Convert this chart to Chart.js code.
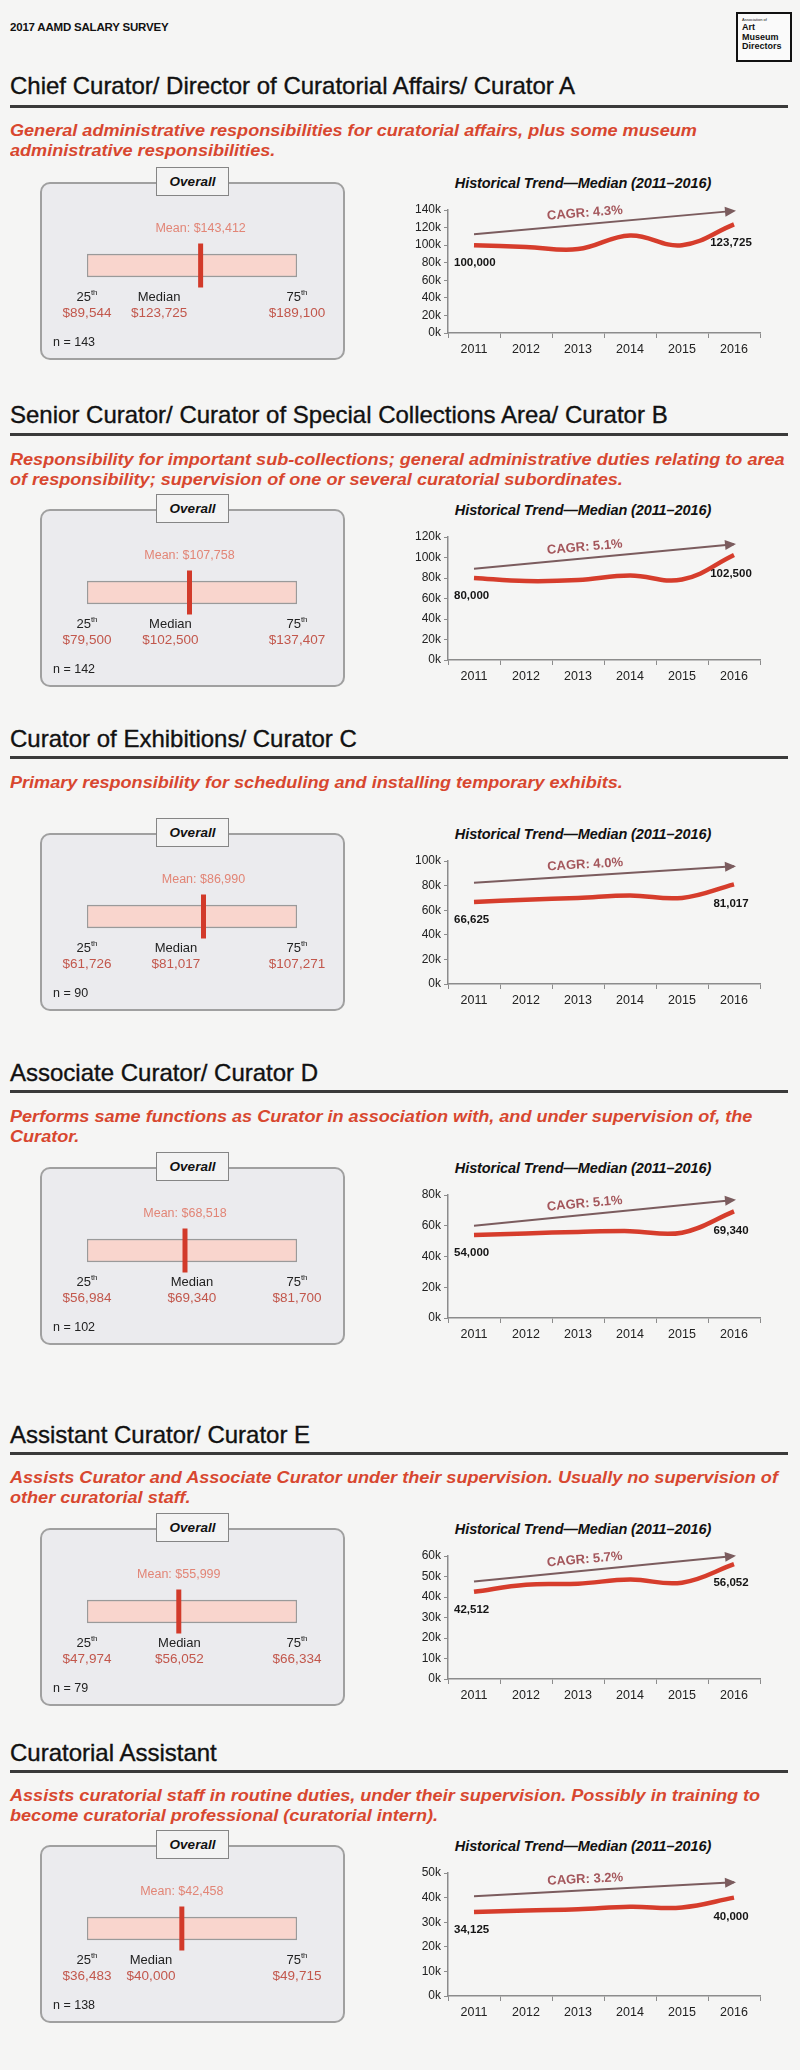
<!DOCTYPE html>
<html>
<head>
<meta charset="utf-8">
<script src="https://cdn.jsdelivr.net/npm/chart.js@4.4.1/dist/chart.umd.min.js"></script>
<style>
  html, body { margin: 0; padding: 0; }
  body {
    width: 800px; height: 2070px; position: relative; overflow: hidden;
    background: #f5f5f4; color: #111;
    font-family: "Liberation Sans", Arial, sans-serif;
  }
  .abs { position: absolute; }
  .head { left: 10px; top: 21px; font-size: 11.5px; font-weight: bold; letter-spacing: -0.2px; }
  .logo {
    left: 736px; top: 12px; width: 48px; height: 46px;
    border: 2.5px solid #111; background: #fafafa; padding: 0 0 0 4px;
    font-weight: bold; font-size: 9px; line-height: 9.5px; color: #111;
  }
  .logo small { display: block; font-size: 4px; line-height: 6px; font-weight: normal; margin-top: 3px; }
  .title {
    left: 10px; font-size: 24px; line-height: 26px; white-space: nowrap; color: #111;
    -webkit-text-stroke: 0.35px #111;
  }
  .rule { left: 10px; width: 778px; height: 3px; background: #3a3a3a; }
  .desc {
    left: 10px; width: 700px; font-size: 16px; line-height: 20px;
    font-weight: bold; font-style: italic; color: #d8472f; white-space: pre;
    transform: scaleX(1.13); transform-origin: left top;
  }
  .box {
    left: 40px; width: 301px; height: 174px; background: #ebebee;
    border: 2px solid #a0a0a0; border-radius: 10px;
  }
  .tab {
    left: 156px; width: 71px; height: 27px; background: #f3f3f3;
    border: 1.5px solid #858585; text-align: center; line-height: 27px;
    font-weight: bold; font-style: italic; font-size: 13.5px;
  }
  .ctitle {
    left: 428px; width: 310px; text-align: center; line-height: 16px;
    font-weight: bold; font-style: italic; font-size: 14.5px; letter-spacing: -0.1px;
  }
  canvas { position: absolute; }
</style>
</head>
<body>
<div class="abs head">2017 AAMD SALARY SURVEY</div>
<div class="abs logo"><small>Association of</small>Art<br>Museum<br>Directors</div>
<script>
const years = ['2011', '2012', '2013', '2014', '2015', '2016'];

const titles = [
  'Chief Curator/ Director of Curatorial Affairs/ Curator A',
  'Senior Curator/ Curator of Special Collections Area/ Curator B',
  'Curator of Exhibitions/ Curator C',
  'Associate Curator/ Curator D',
  'Assistant Curator/ Curator E',
  'Curatorial Assistant'
];
const descriptions = [
  'General administrative responsibilities for curatorial affairs, plus some museum\nadministrative responsibilities.',
  'Responsibility for important sub-collections; general administrative duties relating to area\nof responsibility; supervision of one or several curatorial subordinates.',
  'Primary responsibility for scheduling and installing temporary exhibits.',
  'Performs same functions as Curator in association with, and under supervision of, the\nCurator.',
  'Assists Curator and Associate Curator under their supervision. Usually no supervision of\nother curatorial staff.',
  'Assists curatorial staff in routine duties, under their supervision. Possibly in training to\nbecome curatorial professional (curatorial intern).'
];

// historical medians, 2011-2016
const chiefMedian = [100000, 98000, 95500, 111000, 100000, 123725];
const seniorMedian = [80000, 77000, 78000, 82500, 78500, 102500];
const exhibitionsMedian = [66625, 68500, 70000, 72000, 70000, 81017];
const associateMedian = [54000, 55000, 56000, 56500, 55500, 69340];
const assistantMedian = [42512, 46000, 46500, 48500, 47000, 56052];
const curatorialAssistantMedian = [34125, 34800, 35300, 36300, 36000, 40000];
const trendSeries = [chiefMedian, seniorMedian, exhibitionsMedian, associateMedian, assistantMedian, curatorialAssistantMedian];

// CAGR arrow ends (2011, 2016) and labels
const cagrStart = [112500, 89000, 82300, 60000, 47600, 40500];
const cagrEnd = [139000, 113000, 95700, 76800, 60000, 46200];
const cagrText = ['4.3%', '5.1%', '4.0%', '5.1%', '5.7%', '3.2%'];

// y axis ticks
const yMax = [140000, 120000, 100000, 80000, 60000, 50000];
const yStep = [20000, 20000, 20000, 20000, 10000, 10000];

// overall distribution
const p25 = [89544, 79500, 61726, 56984, 47974, 36483];
const medians = [123725, 102500, 81017, 69340, 56052, 40000];
const p75 = [189100, 137407, 107271, 81700, 66334, 49715];
const means = [143412, 107758, 86990, 68518, 55999, 42458];
const counts = [143, 142, 90, 102, 79, 138];

// page layout: title centre, rule, first description line centre, panel top
const layout = [
  { title: 86, rule: 106, desc: 131, panel: 182 },
  { title: 415, rule: 434, desc: 460, panel: 509 },
  { title: 739, rule: 757, desc: 783, panel: 833 },
  { title: 1073, rule: 1091, desc: 1117, panel: 1167 },
  { title: 1435, rule: 1453, desc: 1478, panel: 1528 },
  { title: 1753, rule: 1771, desc: 1796, panel: 1845 }
];

Chart.defaults.font.family = '"Liberation Sans", Arial, sans-serif';

const money = v => '$' + v.toLocaleString('en-US');
const FONT = '"Liberation Sans", Arial, sans-serif';

function add(cls, top, html) {
  const d = document.createElement('div');
  d.className = 'abs ' + cls;
  d.style.top = top + 'px';
  d.innerHTML = html;
  document.body.appendChild(d);
  return d;
}

function addCanvas(left, top, w, h) {
  const c = document.createElement('canvas');
  c.width = w; c.height = h;
  c.style.left = left + 'px'; c.style.top = top + 'px';
  c.style.width = w + 'px'; c.style.height = h + 'px';
  document.body.appendChild(c);
  return c;
}

function ordinal(ctx, num, cx, y) {
  ctx.font = '13px ' + FONT;
  const w1 = ctx.measureText(num).width;
  ctx.font = '8px ' + FONT;
  const w2 = ctx.measureText('th').width;
  const x0 = cx - (w1 + w2) / 2;
  ctx.textAlign = 'left';
  ctx.fillStyle = '#222';
  ctx.font = '13px ' + FONT;
  ctx.fillText(num, x0, y);
  ctx.font = '8px ' + FONT;
  ctx.fillText('th', x0 + w1, y - 4);
}

const rangeLabels = {
  id: 'rangeLabels',
  afterDatasetsDraw(chart, args, opts) {
    const i = opts.index;
    const { ctx, scales: { x } } = chart;
    ctx.save();
    ctx.textBaseline = 'middle';
    ctx.textAlign = 'center';
    ctx.fillStyle = '#e28576';
    ctx.font = '12.5px ' + FONT;
    ctx.fillText('Mean: ' + money(means[i]), x.getPixelForValue(means[i]), 47);

    const xl = x.getPixelForValue(p25[i]);
    const xr = x.getPixelForValue(p75[i]);
    const xm = Math.max(x.getPixelForValue(medians[i]), xl + 64);
    ordinal(ctx, '25', xl, 115);
    ordinal(ctx, '75', xr, 115);
    ctx.textAlign = 'center';
    ctx.fillStyle = '#222';
    ctx.font = '13px ' + FONT;
    ctx.fillText('Median', xm, 115);

    ctx.fillStyle = '#c2574c';
    ctx.font = '13.5px ' + FONT;
    ctx.fillText(money(p25[i]), xl, 131);
    ctx.fillText(money(medians[i]), xm, 131);
    ctx.fillText(money(p75[i]), xr, 131);

    ctx.textAlign = 'left';
    ctx.fillStyle = '#222';
    ctx.font = '12.5px ' + FONT;
    ctx.fillText('n = ' + counts[i], 13, 161);
    ctx.restore();
  }
};

const trendMarks = {
  id: 'trendMarks',
  afterDatasetsDraw(chart, args, opts) {
    const i = opts.index;
    const ctx = chart.ctx;
    const arrow = chart.getDatasetMeta(1).data;
    const a0 = arrow[0], a1 = arrow[arrow.length - 1];
    const ang = Math.atan2(a1.y - a0.y, a1.x - a0.x);
    ctx.save();
    // arrow head
    ctx.fillStyle = '#7b5c5e';
    ctx.translate(a1.x, a1.y);
    ctx.rotate(ang);
    ctx.beginPath();
    ctx.moveTo(2, 0);
    ctx.lineTo(-9, -5);
    ctx.lineTo(-9, 5);
    ctx.closePath();
    ctx.fill();
    ctx.restore();

    // CAGR label along the arrow
    ctx.save();
    const t = 0.43;
    const cx = a0.x + (a1.x - a0.x) * t + Math.sin(ang) * 11;
    const cy = a0.y + (a1.y - a0.y) * t - Math.cos(ang) * 11;
    ctx.translate(cx, cy);
    ctx.rotate(ang * 0.9);
    ctx.textAlign = 'center';
    ctx.textBaseline = 'middle';
    ctx.fillStyle = '#a4575c';
    ctx.font = 'bold 13px ' + FONT;
    ctx.fillText('CAGR: ' + cagrText[i], 0, 0);
    ctx.restore();

    // first and last values
    const pts = chart.getDatasetMeta(0).data;
    const vals = trendSeries[i];
    ctx.save();
    ctx.fillStyle = '#151515';
    ctx.font = 'bold 11.5px ' + FONT;
    ctx.textBaseline = 'middle';
    ctx.textAlign = 'left';
    ctx.fillText(vals[0].toLocaleString('en-US'), pts[0].x - 20, pts[0].y + 18);
    ctx.textAlign = 'center';
    const last = pts[pts.length - 1];
    ctx.fillText(vals[vals.length - 1].toLocaleString('en-US'), last.x - 3, last.y + 19);
    ctx.restore();
  }
};

layout.forEach((L, i) => {
  add('title', L.title - 13, titles[i]);
  add('rule', L.rule - 1.5, '');
  add('desc', L.desc - 10, descriptions[i]);
  add('box', L.panel, '');
  add('tab', L.panel - 15, 'Overall');
  add('ctitle', L.panel - 7, 'Historical Trend\u2014Median (2011\u20132016)');

  // overall distribution bar, marker at the mean
  const rc = addCanvas(40, L.panel, 303, 176);
  new Chart(rc, {
    type: 'bar',
    data: {
      labels: ['Overall'],
      datasets: [
        {
          type: 'bar',
          order: 1,
          data: [[p25[i], p75[i]]],
          backgroundColor: '#f9d5cd',
          borderColor: '#9a9a9a',
          borderWidth: 1.5,
          borderSkipped: false,
          barThickness: 23
        },
        {
          type: 'line',
          order: 0,
          data: [means[i]],
          showLine: false,
          pointStyle: 'line',
          rotation: 90,
          pointRadius: 22,
          pointBorderWidth: 5,
          pointBorderColor: '#d23a2a',
          clip: false
        }
      ]
    },
    options: {
      indexAxis: 'y',
      responsive: false,
      animation: false,
      events: [],
      layout: { padding: { left: 47, right: 46, top: 60, bottom: 69 } },
      scales: {
        x: { type: 'linear', min: p25[i], max: p75[i], display: false },
        y: { display: false }
      },
      plugins: {
        legend: { display: false },
        tooltip: { enabled: false },
        rangeLabels: { index: i }
      }
    },
    plugins: [rangeLabels]
  });

  // historical trend line
  const lc = addCanvas(400, L.panel + 14, 380, 163);
  const axisColor = '#8c8c8c';
  new Chart(lc, {
    type: 'line',
    data: {
      labels: years,
      datasets: [
        {
          data: trendSeries[i],
          borderColor: '#d63d2c',
          borderWidth: 4.5,
          tension: 0.4,
          pointRadius: 0,
          clip: false
        },
        {
          data: [cagrStart[i], null, null, null, null, cagrEnd[i]],
          spanGaps: true,
          borderColor: '#7b5c5e',
          borderWidth: 2,
          tension: 0,
          pointRadius: 0,
          clip: false
        }
      ]
    },
    options: {
      responsive: false,
      animation: false,
      events: [],
      layout: { padding: { top: 14, right: 20, left: 0, bottom: 0 } },
      scales: {
        x: {
          offset: true,
          grid: { offset: true, drawOnChartArea: false, tickLength: 5, color: axisColor },
          border: { color: axisColor, width: 1.5 },
          ticks: { color: '#222', font: { size: 12.5 }, padding: 4, maxRotation: 0 },
          afterFit: s => { s.height = 26; }
        },
        y: {
          min: 0,
          max: yMax[i],
          ticks: { stepSize: yStep[i], color: '#222', font: { size: 12 }, padding: 3, callback: v => (v / 1000) + 'k' },
          grid: { drawOnChartArea: false, tickLength: 4, color: axisColor },
          border: { color: axisColor, width: 1.5 },
          afterFit: s => { s.width = 48; }
        }
      },
      plugins: {
        legend: { display: false },
        tooltip: { enabled: false },
        trendMarks: { index: i }
      }
    },
    plugins: [trendMarks]
  });
});
</script>
</body>
</html>
